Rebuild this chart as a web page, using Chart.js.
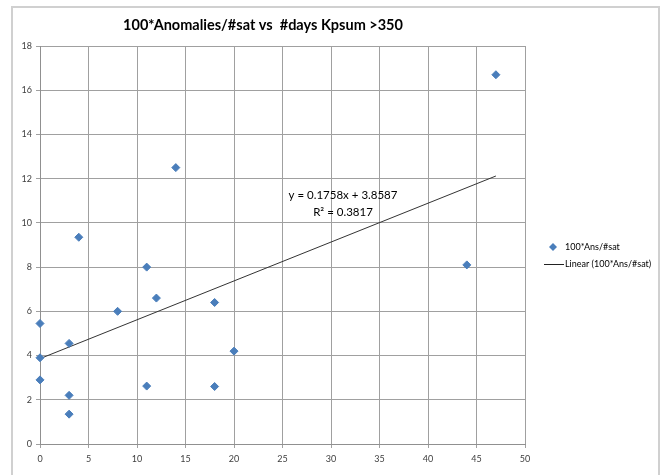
<!DOCTYPE html>
<html>
<head>
<meta charset="utf-8">
<script src="https://cdn.jsdelivr.net/npm/chart.js@4"></script>
<style>
  html, body { margin: 0; padding: 0; background: #fff; }
  #wrap { width: 662px; height: 475px; }
</style>
</head>
<body>
<div id="wrap"><canvas id="c" width="662" height="475"></canvas></div>
<script>
// #days Kpsum > 350 vs 100*Anomalies/#sat
const daysKp = [0, 0, 0, 3, 3, 3, 4, 8, 11, 11, 12, 14, 18, 18, 20, 44, 47];
const ansPerSat = [5.45, 3.9, 2.9, 4.55, 2.2, 1.35, 9.35, 6.0, 8.0, 2.62, 6.6, 12.5, 6.4, 2.6, 4.2, 8.1, 16.7];

// linear trendline as displayed (end points)
const trendX = [0, 47];
const trendY = [3.86, 12.12];
const eqLines = ['y = 0.1758x + 3.8587', 'R\u00b2 = 0.3817'];

const titleText = '100*Anomalies/#sat vs  #days Kpsum >350';
const seriesName = '100*Ans/#sat';
const trendName = 'Linear (100*Ans/#sat)';

const FONT = 'Lato, "Open Sans", sans-serif';
const blue = '#4a7ebb';

const scatterPts = daysKp.map((x, i) => ({ x: x, y: ansPerSat[i] }));
const trendPts = trendX.map((x, i) => ({ x: x, y: trendY[i] }));

// frame, title, equation, legend
const decor = {
  id: 'decor',
  beforeDraw(chart) {
    const c = chart.ctx;
    c.save();
    c.fillStyle = '#fff';
    c.fillRect(0, 0, chart.width, chart.height);
    c.strokeStyle = '#d0d0d0';
    c.lineWidth = 2;
    c.strokeRect(12, 7, 647, 470);
    c.restore();
  },
  afterDraw(chart) {
    const c = chart.ctx;
    c.save();
    c.fillStyle = '#000';
    c.textBaseline = 'middle';
    c.textAlign = 'center';
    c.font = 'bold 14.5px ' + FONT;
    c.fillText(titleText, 263, 25);

    c.font = '11.5px ' + FONT;
    c.fillText(eqLines[0], 343, 195);
    c.fillText(eqLines[1], 343, 212);

    // legend
    c.font = '9px ' + FONT;
    c.textAlign = 'left';
    c.fillStyle = blue;
    c.beginPath();
    c.moveTo(553, 243); c.lineTo(557, 247); c.lineTo(553, 251); c.lineTo(549, 247);
    c.closePath(); c.fill();
    c.fillStyle = '#000';
    c.fillText(seriesName, 565, 247);
    c.strokeStyle = '#222';
    c.lineWidth = 1;
    c.beginPath(); c.moveTo(544, 264.5); c.lineTo(564, 264.5); c.stroke();
    c.fillText(trendName, 565, 264);
    c.restore();
  }
};

new Chart(document.getElementById('c'), {
  type: 'scatter',
  data: {
    datasets: [{
      label: seriesName,
      data: scatterPts,
      backgroundColor: blue,
      borderColor: blue,
      pointStyle: 'rectRot',
      pointRadius: 4,
      pointHoverRadius: 4,
      clip: false,
      order: 1
    }, {
      type: 'line',
      label: trendName,
      data: trendPts,
      borderColor: '#333',
      borderWidth: 1,
      pointRadius: 0,
      fill: false,
      order: 2
    }]
  },
  options: {
    responsive: false,
    animation: false,
    events: [],
    layout: { padding: { left: 0, top: 46, right: 137, bottom: 0 } },
    plugins: {
      legend: { display: false },
      title: { display: false },
      tooltip: { enabled: false }
    },
    scales: {
      x: {
        type: 'linear',
        min: 0, max: 50,
        ticks: { stepSize: 5, color: '#404040', font: { family: FONT, size: 9 }, padding: 6 },
        grid: { color: '#a0a0a0', tickLength: 4, tickColor: '#a0a0a0' },
        border: { color: '#909090' },
        afterFit(s) { s.height = 31; }
      },
      y: {
        min: 0, max: 18,
        ticks: { stepSize: 2, color: '#404040', font: { family: FONT, size: 9 }, padding: 4 },
        grid: { color: '#a0a0a0', tickLength: 4, tickColor: '#a0a0a0' },
        border: { color: '#909090' },
        afterFit(s) { s.width = 40; }
      }
    }
  },
  plugins: [decor]
});
</script>
</body>
</html>
